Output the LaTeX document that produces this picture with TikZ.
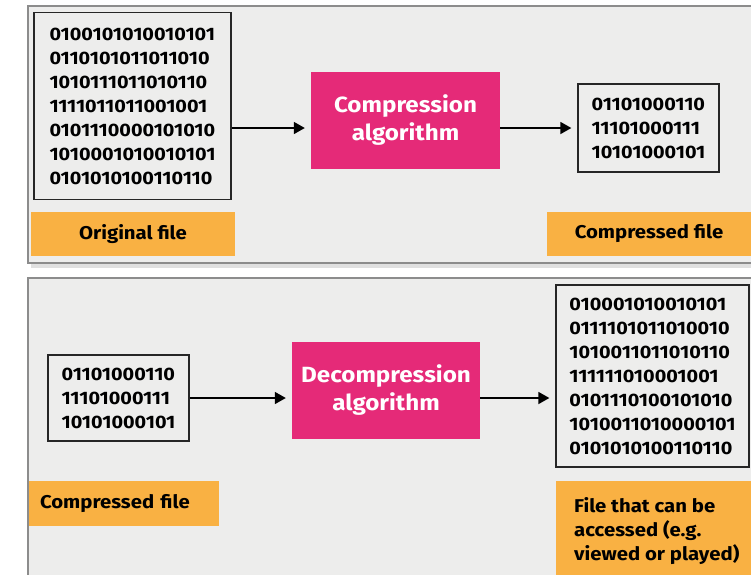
\documentclass[tikz,border=0pt]{standalone}
\usepackage{fontspec}
\setmainfont{Fira Sans}[FakeStretch=1.1]
\usetikzlibrary{arrows.meta}
\definecolor{panelbg}{HTML}{EDEDEC}
\definecolor{panelborder}{HTML}{8C8C8C}
\definecolor{algopink}{HTML}{E52A78}
\definecolor{labelorange}{HTML}{F9B143}
\tikzset{
  binbox/.style={draw=black!85, line width=1.3pt, fill=panelbg, align=left, inner sep=0pt,
    font=\fontsize{18}{24}\selectfont\bfseries},
  algobox/.style={fill=algopink, text=white, align=center, inner sep=0pt,
    font=\fontsize{22}{28}\selectfont\bfseries},
  filelabel/.style={fill=labelorange, text=black, inner sep=0pt,
    font=\fontsize{18.5}{24}\selectfont\bfseries},
  arr/.style={line width=1.6pt, -{Triangle[length=11pt,width=12pt]}, shorten >=6pt},
  panel/.style={draw=panelborder, fill=panelbg, line width=1.2pt}
}
\begin{document}
\begin{tikzpicture}[x=1pt,y=-1pt]
\useasboundingbox (0,0) rectangle (751,574);
\clip (0,0) rectangle (751,574);
\fill[black!12] (31,264) rectangle (760,268);
\draw[panel] (28,6) rectangle (770,263);
\draw[panel] (28,278) rectangle (770,600);
% top row
\node[binbox, minimum width=197, minimum height=187] (orig) at (132.5,106)
  {0100101010010101\\0110101011011010\\1010111011010110\\1111011011001001\\0101110000101010\\1010001010010101\\0101010100110110};
\node[algobox, minimum width=189, minimum height=97] (comp) at (405.5,120.5)
  {Compression\\algorithm};
\node[binbox, minimum width=141, minimum height=88] (cbox) at (648.5,128)
  {01101000110\\11101000111\\10101000101};
\node[filelabel, minimum width=204, minimum height=44] (origlab) at (133,234) {Original file};
\node[filelabel, minimum width=204, minimum height=44] (cflab) at (649,234) {Compressed file};
\draw[arr] (orig.east |- cbox.west) -- (comp.west |- cbox.west);
\draw[arr] (comp.east |- cbox.west) -- (cbox.west);
% bottom row
\node[binbox, minimum width=141, minimum height=86] (cbox2) at (118.5,398)
  {01101000110\\11101000111\\10101000101};
\node[algobox, minimum width=188, minimum height=97] (decomp) at (386,390.5)
  {Decompression\\algorithm};
\node[binbox, minimum width=193, minimum height=182] (dec) at (652.5,376)
  {010001010010101\\0111101011010010\\1010011011010110\\111111010001001\\0101110100101010\\1010011010000101\\0101010100110110};
\node[filelabel, minimum width=190, minimum height=45, text width=168, inner xsep=11, align=left] (cflab2) at (124,503.5) {Compressed file};
\node[filelabel, anchor=north west, minimum width=195, minimum height=100, inner xsep=18, inner ysep=10, align=left] (acclab) at (556,481)
  {File that can be\\accessed (e.g.\\viewed or played)};
\draw[arr] (cbox2.east) -- (cbox2.east -| decomp.west);
\draw[arr] (decomp.east |- cbox2.east) -- (cbox2.east -| dec.west);
\end{tikzpicture}
\end{document}
